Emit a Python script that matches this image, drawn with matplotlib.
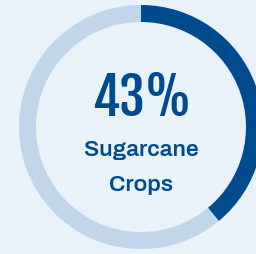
"""Donut gauge: share of sugarcane crops."""

import matplotlib.pyplot as plt

# values
label_value = 43          # number printed in the middle
arc_share = [39, 61]      # filled / remaining part of the ring as drawn
caption = ["Sugarcane", "Crops"]

BG = "#e9f1f9"
DARK = "#004a8e"
LIGHT = "#c1d6ea"


def main() -> None:
    fig = plt.figure(figsize=(2.56, 2.55), dpi=100, facecolor=BG)
    ax = fig.add_axes([0, 0, 1, 1])
    ax.set_facecolor(BG)

    ax.pie(arc_share, colors=[DARK, LIGHT], startangle=90, counterclock=False,
           center=(141, 127), radius=122, frame=True,
           wedgeprops=dict(width=17, linewidth=0))
    ax.set_xlim(0, 256)
    ax.set_ylim(0, 255)
    ax.set_aspect("equal")
    ax.axis("off")

    ax.text(141.5, 161.5, f"{label_value}%", ha="center", va="center_baseline",
            color=DARK, fontsize=37,
            family=["Fjalla One", "DejaVu Sans"])
    ax.text(141, 105, caption[0], ha="center", va="center", color=DARK,
            fontsize=16.5, fontweight="bold", family=["Archivo", "DejaVu Sans"])
    ax.text(141, 70, caption[1], ha="center", va="center", color=DARK,
            fontsize=16.5, fontweight="bold", family=["Archivo", "DejaVu Sans"])

    fig.savefig("out.png", dpi=100, facecolor=BG)
    plt.close(fig)


if __name__ == "__main__":
    main()
